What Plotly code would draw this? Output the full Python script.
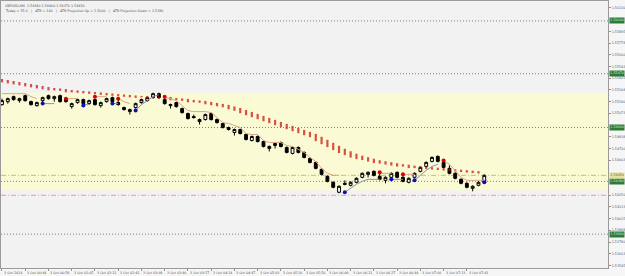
import plotly.graph_objects as go

# ---------------- data ----------------
opens = [1.5516,1.5519,1.5524,1.5520,1.5525,1.5519,1.5515,1.5520,1.5525,1.5522,
         1.5525,1.5522,1.5514,1.5518,1.5521,1.5517,1.5521,1.5515,1.5519,1.5523,
         1.5518,1.5513,1.5509,1.5513,1.5518,1.5520,1.5523,1.5527,1.5521,1.5515,
         1.5518,1.5512,1.5507,1.5504,1.5499,1.5501,1.5507,1.5501,1.5497,1.5493,
         1.5488,1.5491,1.5486,1.5480,1.5484,1.5479,1.5472,1.5475,1.5478,1.5473,
         1.5467,1.5473,1.5468,1.5462,1.5458,1.5451,1.5444,1.5438,1.5428,1.5437,
         1.5435,1.5438,1.5443,1.5446,1.5449,1.5444,1.5440,1.5443,1.5448,1.5443,
         1.5438,1.5443,1.5449,1.5454,1.5459,1.5464,1.5458,1.5452,1.5447,1.5441,
         1.5437,1.5432,1.5435,1.5438]
closes = [1.5520,1.5522,1.5521,1.5522,1.5520,1.5516,1.5518,1.5523,1.5522,1.5524,
          1.5519,1.5519,1.5517,1.5521,1.5517,1.5520,1.5516,1.5518,1.5522,1.5519,
          1.5516,1.5511,1.5511,1.5517,1.5521,1.5523,1.5527,1.5523,1.5517,1.5516,
          1.5514,1.5508,1.5502,1.5503,1.5501,1.5506,1.5501,1.5498,1.5493,1.5491,
          1.5491,1.5487,1.5481,1.5484,1.5479,1.5474,1.5474,1.5477,1.5474,1.5468,
          1.5473,1.5468,1.5463,1.5458,1.5452,1.5446,1.5439,1.5433,1.5434,1.5436,
          1.5438,1.5442,1.5447,1.5448,1.5445,1.5441,1.5443,1.5447,1.5443,1.5439,
          1.5442,1.5447,1.5453,1.5458,1.5463,1.5459,1.5453,1.5447,1.5442,1.5437,
          1.5433,1.5434,1.5438,1.5445]
highs = [1.5522,1.5523,1.5525,1.5523,1.5526,1.5520,1.5519,1.5524,1.5526,1.5525,
         1.5526,1.5523,1.5518,1.5522,1.5522,1.5521,1.5522,1.5519,1.5523,1.5524,
         1.5521,1.5514,1.5512,1.5518,1.5522,1.5524,1.5528,1.5528,1.5523,1.5517,
         1.5519,1.5513,1.5508,1.5506,1.5502,1.5507,1.5508,1.5502,1.5498,1.5494,
         1.5492,1.5492,1.5487,1.5485,1.5485,1.5480,1.5475,1.5478,1.5479,1.5474,
         1.5474,1.5474,1.5469,1.5463,1.5459,1.5452,1.5445,1.5439,1.5435,1.5440,
         1.5439,1.5443,1.5448,1.5449,1.5450,1.5447,1.5444,1.5448,1.5449,1.5445,
         1.5443,1.5448,1.5454,1.5459,1.5464,1.5465,1.5460,1.5455,1.5448,1.5442,
         1.5438,1.5435,1.5439,1.5446]
lows = [1.5515,1.5517,1.5520,1.5518,1.5519,1.5515,1.5514,1.5518,1.5521,1.5519,
        1.5518,1.5518,1.5512,1.5517,1.5516,1.5516,1.5515,1.5513,1.5518,1.5518,
        1.5515,1.5510,1.5506,1.5512,1.5517,1.5519,1.5522,1.5522,1.5516,1.5512,
        1.5513,1.5507,1.5501,1.5502,1.5496,1.5500,1.5500,1.5497,1.5492,1.5490,
        1.5485,1.5486,1.5480,1.5479,1.5478,1.5473,1.5469,1.5472,1.5473,1.5467,
        1.5466,1.5467,1.5462,1.5457,1.5451,1.5445,1.5438,1.5432,1.5427,1.5435,
        1.5434,1.5437,1.5442,1.5443,1.5444,1.5440,1.5437,1.5442,1.5442,1.5438,
        1.5437,1.5442,1.5448,1.5453,1.5458,1.5458,1.5452,1.5446,1.5441,1.5436,
        1.5432,1.5429,1.5434,1.5437]

# red dotted moving average (one value per bar)
red_ma = [1.5540,1.5539,1.5538,1.5537,1.5536,1.5535,1.5534,1.5533,1.5532,1.55315,
          1.5531,1.5530,1.55295,1.5529,1.55285,1.5528,1.55275,1.5527,1.55265,1.5526,
          1.55255,1.5525,1.55245,1.5524,1.5524,1.55235,1.55235,1.5523,1.5523,1.5522,
          1.55215,1.5521,1.5520,1.55195,1.5519,1.5518,1.5517,1.5516,1.5515,1.55135,
          1.5512,1.5510,1.5508,1.5506,1.5504,1.5502,1.5500,1.5498,1.5496,1.5494,
          1.5492,1.5490,1.5488,1.5486,1.5483,1.5480,1.5477,1.5474,1.5471,1.54685,
          1.5466,1.5464,1.54625,1.5461,1.54595,1.54585,1.54575,1.54565,1.54555,1.5455,
          1.5454,1.54535,1.5453,1.54525,1.5452,1.54515,1.5451,1.54505,1.5450,1.54495,
          1.5449,1.54485,1.5448]

N = None
# trailing stop above price (tan) and below price (blue-grey)
stop_down = [1.5527,1.5527,1.5527,1.5527,1.5527,1.5524,1.5522,N,N,N,
             N,1.5522,1.5522,1.5522,N,N,1.5524,1.5524,1.5524,N,
             1.5522,1.5519,1.5517,N,N,N,N,N,1.5523,1.5522,
             1.5520,1.5515,1.5510,1.5509,1.5509,1.5509,1.5508,1.5503,1.5498,1.5497,
             1.5495,1.5493,1.5487,1.5486,1.5486,1.5480,1.5478,1.5478,1.5478,1.5475,
             1.5474,1.5471,1.5468,1.5463,1.5459,1.5452,1.5447,1.5445,1.5445,N,
             N,N,N,N,N,1.5447,1.5447,1.5447,N,1.5446,
             1.5446,1.5446,N,N,N,N,1.5460,1.5456,1.5450,1.5443,
             1.5440,1.5440,1.5440,1.5440]
stop_up = [N,N,N,N,N,N,N,1.5517,1.5517,1.5517,
           N,N,N,N,1.5516,1.5516,N,N,N,1.5517,
           1.5517,N,N,1.5510,1.5516,1.5520,1.5524,1.5526,N,N,
           N,N,N,N,N,N,N,N,N,N,
           N,N,N,N,N,N,N,N,N,N,
           N,N,N,N,N,N,N,N,N,1.5428,
           1.5432,1.5436,1.5439,1.5441,1.5441,1.5441,N,1.5441,1.5441,1.5441,
           N,1.5440,1.5445,1.5450,1.5454,1.5456,N,N,N,N,
           N,N,N,N]

sell_bars = [11, 16, 20, 28, 65, 69, 76]
sell_prices = [1.5522, 1.5524, 1.5522, 1.5524, 1.5448, 1.5446, 1.5460]
buy_bars = [7, 14, 19, 23, 59, 67, 71, 83]
buy_prices = [1.5517, 1.5515, 1.5517, 1.5510, 1.5428, 1.5441, 1.5440, 1.5438]

level_prices = [1.5600, 1.5547, 1.5493, 1.5439, 1.5386]
bid_price = 1.5445
pink_level = 1.5425
zone_low, zone_high = 1.5430, 1.5528

price_ticks = [1.56130, 1.55895, 1.55778, 1.55660, 1.55543, 1.55425, 1.55308,
               1.55190, 1.55073, 1.54838, 1.54720, 1.54603, 1.54250, 1.54133,
               1.54015, 1.53898, 1.53780, 1.53663, 1.53545]

time_labels = ["3 Oct 2014", "3 Oct 00:44", "3 Oct 00:58", "3 Oct 01:05", "3 Oct 02:12",
               "3 Oct 02:42", "3 Oct 03:08", "3 Oct 03:46", "3 Oct 03:57", "3 Oct 04:14",
               "3 Oct 04:47", "3 Oct 05:03", "3 Oct 05:20", "3 Oct 05:50", "3 Oct 06:08",
               "3 Oct 06:21", "3 Oct 06:27", "3 Oct 06:44", "3 Oct 07:06", "3 Oct 07:13",
               "3 Oct 07:41"]
label_step = 4

header1 = "GBPUSD,M4  1.54380 1.54460 1.54370 1.54450"
header2 = "Today = 55.6   |   ATR = 140   |   ATR Projection Up = 1.5600   |   ATR Projection Down = 1.5386"

# ---------------- figure ----------------
FONT = "DejaVu Sans"
FS = 3.3
bars = list(range(len(opens)))

fig = go.Figure()

# red dotted MA as short vertical dashes
ma_x = list(range(len(red_ma)))
sizes = []
for i, v in enumerate(red_ma):
    prev = red_ma[i - 1] if i > 0 else red_ma[1]
    d = abs(v - prev) / 0.0001
    sizes.append(min(5.5, 1.0 + 1.4 * d))
fig.add_trace(go.Scatter(x=ma_x, y=red_ma, mode="markers",
                         marker=dict(symbol="line-ns", size=sizes,
                                     line=dict(width=2.2, color="#CC0A0A")),
                         hoverinfo="skip"))

fig.add_trace(go.Scatter(x=bars, y=stop_down, mode="lines",
                         line=dict(color="#D9A68C", width=1), connectgaps=False,
                         hoverinfo="skip"))
fig.add_trace(go.Scatter(x=bars, y=stop_up, mode="lines",
                         line=dict(color="#8393BC", width=1), connectgaps=False,
                         hoverinfo="skip"))

fig.add_trace(go.Candlestick(
    x=bars, open=opens, high=highs, low=lows, close=closes,
    increasing=dict(fillcolor="#FFFFFF", line=dict(color="#000000", width=1)),
    decreasing=dict(fillcolor="#000000", line=dict(color="#000000", width=1)),
    whiskerwidth=0, hoverinfo="skip"))

fig.add_trace(go.Scatter(x=sell_bars, y=sell_prices, mode="markers",
                         marker=dict(color="#D80000", size=4), hoverinfo="skip"))
fig.add_trace(go.Scatter(x=buy_bars, y=buy_prices, mode="markers",
                         marker=dict(color="#1010B0", size=4), hoverinfo="skip"))

DOT = "1px,2px"
shapes = [dict(type="rect", xref="paper", x0=0, x1=1, yref="y", y0=zone_low, y1=zone_high,
               fillcolor="#FAFAD4", line=dict(width=0), layer="below")]
for p in level_prices:
    shapes.append(dict(type="line", xref="paper", x0=0, x1=1, yref="y", y0=p, y1=p,
                       line=dict(color="#6B8F5E", width=1, dash=DOT), layer="below"))
shapes.append(dict(type="line", xref="paper", x0=0, x1=1, yref="y", y0=bid_price, y1=bid_price,
                   line=dict(color="#C8C83C", width=1, dash="5px,2px,1px,2px"), layer="below"))
shapes.append(dict(type="line", xref="paper", x0=0, x1=1, yref="y", y0=pink_level, y1=pink_level,
                   line=dict(color="#E79AA8", width=1, dash="5px,2px,1px,2px"), layer="below"))

annotations = [
    dict(xref="paper", yref="paper", x=0.003, y=1, yshift=-0.5, xanchor="left", yanchor="top",
         text=header1, showarrow=False, font=dict(family=FONT, size=FS, color="#505050")),
    dict(xref="paper", yref="paper", x=0.003, y=1, yshift=-5.5, xanchor="left", yanchor="top",
         text=header2, showarrow=False, font=dict(family=FONT, size=FS, color="#505050")),
]
for k, t in enumerate(time_labels):
    annotations.append(dict(xref="x", yref="paper", x=k * label_step, y=0, yshift=-1,
                            xanchor="left", yanchor="top", text=t, showarrow=False,
                            font=dict(family=FONT, size=FS, color="#505050")))
for p in level_prices:
    annotations.append(dict(xref="paper", yref="y", x=1, y=p, xshift=1, xanchor="left",
                            yanchor="middle", text=f"{p:.5f}", showarrow=False,
                            bgcolor="#2F7A34", borderpad=0.3,
                            font=dict(family=FONT, size=FS, color="#D8EED8")))
annotations.append(dict(xref="paper", yref="y", x=1, y=bid_price, xshift=1, xanchor="left",
                        yanchor="middle", text=f"{bid_price:.5f}", showarrow=False,
                        bgcolor="#E6E29A", borderpad=0.3,
                        font=dict(family=FONT, size=FS, color="#606060")))

fig.update_layout(
    width=625, height=276,
    margin=dict(l=0, r=16, t=0, b=8),
    paper_bgcolor="#F6F6F6", plot_bgcolor="#F2F2F2",
    showlegend=False,
    shapes=shapes, annotations=annotations,
    xaxis=dict(range=[-0.17, 104.29], showgrid=False, zeroline=False,
               tickmode="array", tickvals=[k * label_step for k in range(len(time_labels))],
               ticktext=["" for _ in time_labels], ticks="outside", ticklen=2,
               tickcolor="#909090", showline=True, linecolor="#9A9A9A", mirror=True,
               rangeslider=dict(visible=False), fixedrange=True),
    yaxis=dict(range=[1.5352, 1.5620], side="right", showgrid=False, zeroline=False,
               tickmode="array", tickvals=price_ticks,
               ticktext=[f"{v:.5f}" for v in price_ticks],
               tickfont=dict(family=FONT, size=FS, color="#555555"),
               ticks="outside", ticklen=2, tickcolor="#909090",
               showline=True, linecolor="#9A9A9A", mirror=True, fixedrange=True),
)

fig.write_html("out.html")
